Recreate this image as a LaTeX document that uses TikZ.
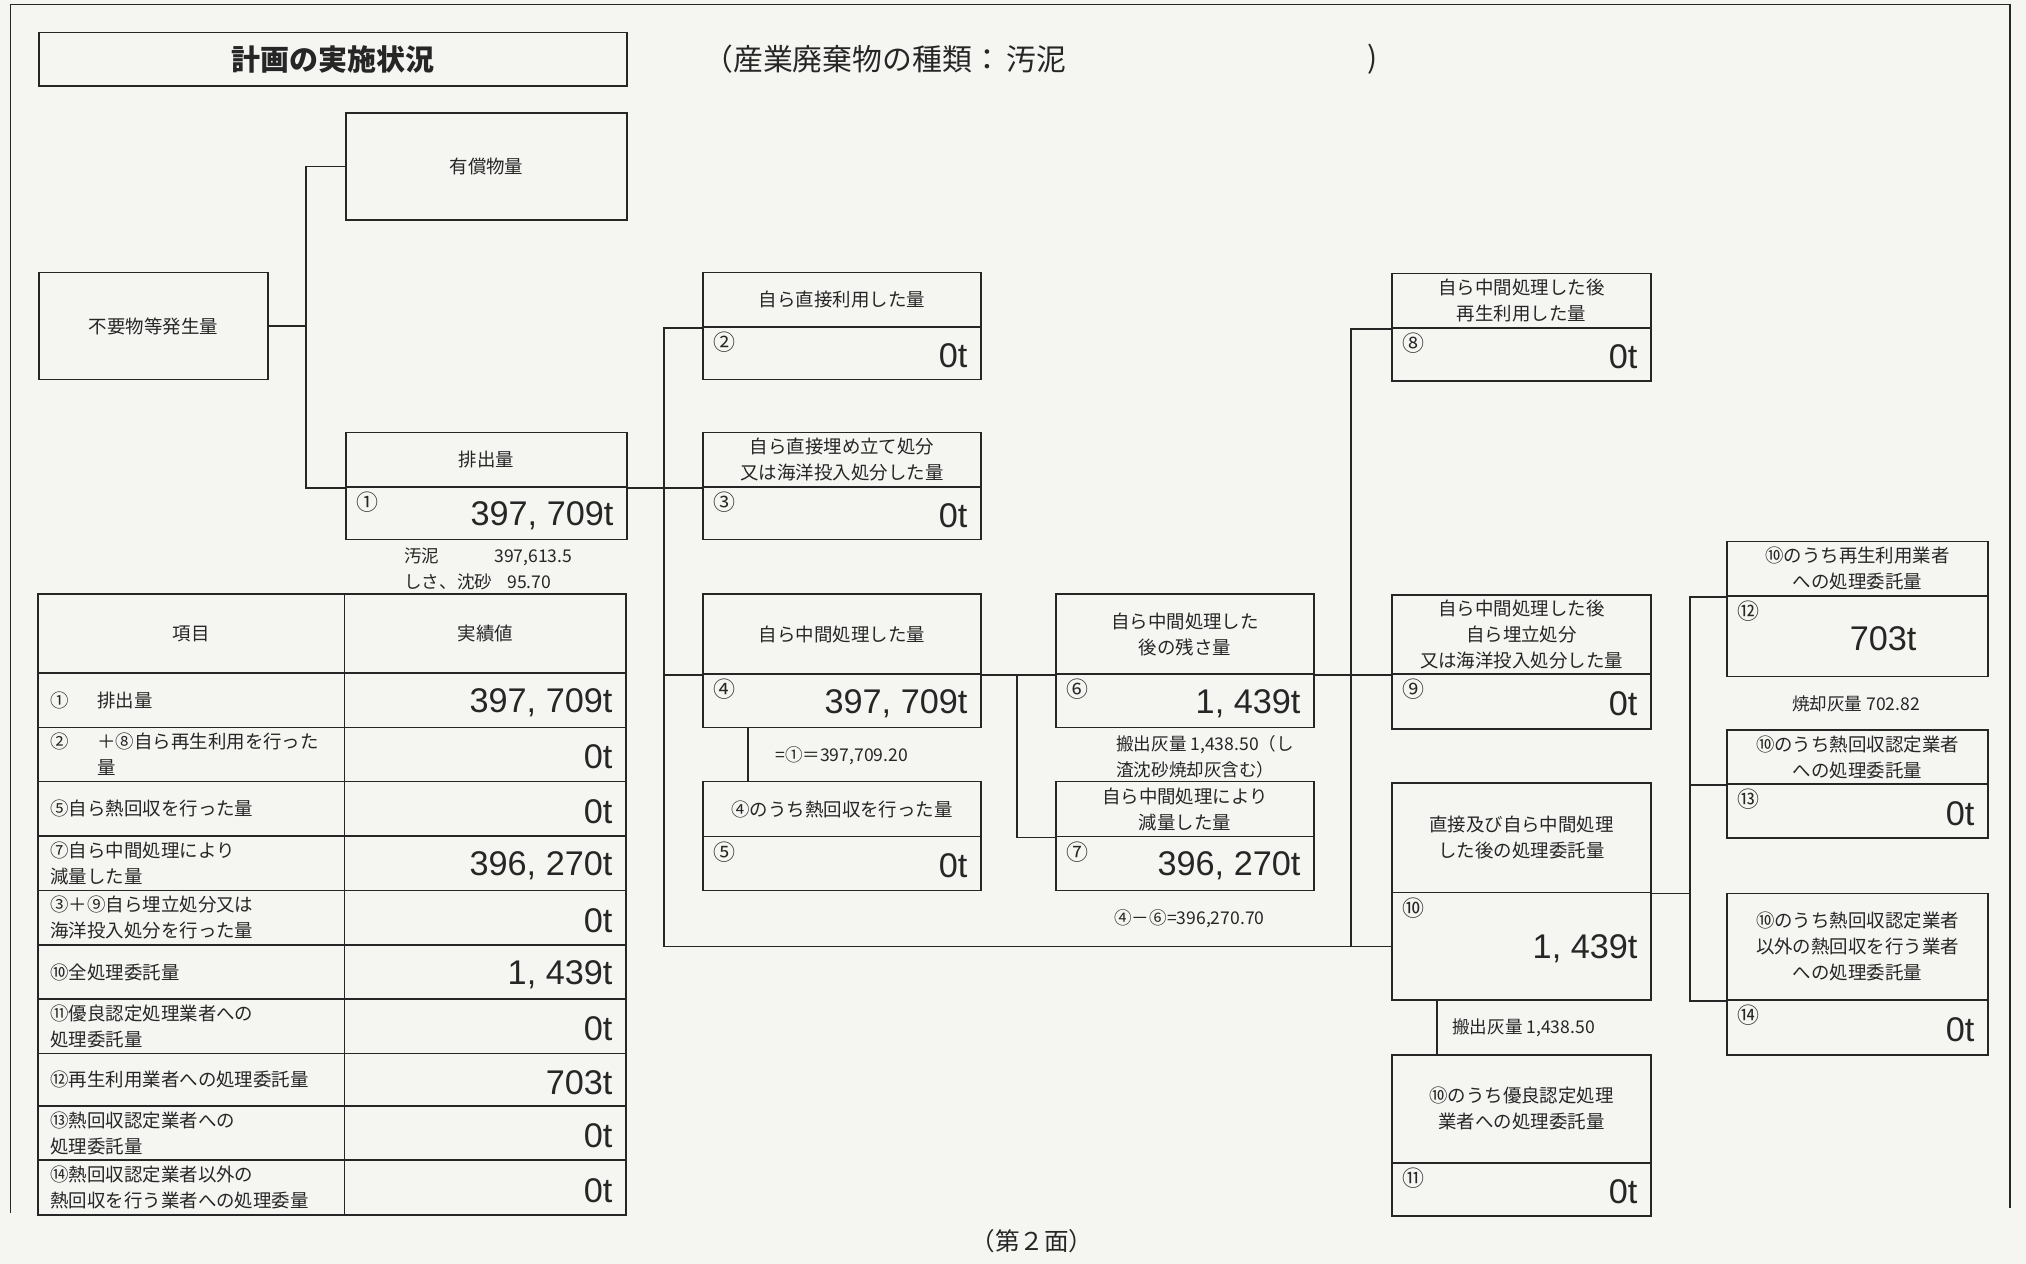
\documentclass[tikz,border=0pt]{standalone}
\usepackage{fontspec}
\setmainfont{Noto Sans CJK JP}
\newfontfamily\numfont{Liberation Sans}
\usetikzlibrary{fit}
\definecolor{paper}{RGB}{245,245,242}
\definecolor{ink}{RGB}{38,38,38}
\begin{document}
\begin{tikzpicture}[x=0.02cm, y=-0.02cm,
    box/.style={draw=ink, line width=1pt, inner sep=0pt},
    txt/.style={inner sep=0pt, align=center, text=ink, font=\fontsize{10.5}{14.8}\selectfont},
    num/.style={anchor=north west, inner xsep=6pt, inner ysep=3.2pt, text=ink,
      font=\fontsize{12.5}{12.5}\selectfont},
    val/.style={anchor=east, inner xsep=8pt, inner ysep=0pt, yshift=-1.5pt, text=ink,
      font=\numfont\fontsize{19.5}{20}\selectfont},
    note/.style={inner sep=0pt, align=left, text=ink, font=\fontsize{10}{14.8}\selectfont},
    link/.style={draw=ink, line width=0.8pt}]
  \useasboundingbox (0,0) rectangle (2026,1264);
  \fill[paper] (0,0) rectangle (2026,1264);
  \draw[ink, line width=0.8pt] (10.5,1213) -- (10.5,4.5) -- (2010,4.5) -- (2010,1208);

  % heading
  \node[box, fit={(39,32.5) (627,86)}, label={[txt, font=\bfseries\fontsize{16.5}{20}\selectfont]center:計画の実施状況}] (title) {};
  \node[note, anchor=west, font=\fontsize{17}{20}\selectfont] (kind) at (703,59) {（産業廃棄物の種類：\,汚泥};
  \node[note, font=\fontsize{17}{20}\selectfont] (kindend) at (1373,59) {)};

  % generation and discharge
  \node[box, fit={(39,272.5) (268,379.6)}, label={[txt]center:不要物等発生量}] (gen) {};
  \node[box, fit={(346,113) (627,220)}, label={[txt]center:有償物量}] (paid) {};
  \node[box, fit={(346,432.5) (627,487)}, label={[txt]center:排出量}] (out-t) {};
  \node[box, fit={(346,487) (627,539.6)}, label={[num]north west:①}, label={[val]east:{397, 709t}}] (out) {};
  \node[note, anchor=west] (sludge) at (404,568.5) {\makebox[1.8cm][l]{汚泥}397,613.5\\\makebox[2.06cm][l]{しさ、沈砂}95.70};

  % own treatment
  \node[box, fit={(703,272.5) (981,327)}, label={[txt]center:自ら直接利用した量}] (own-t) {};
  \node[box, fit={(703,327) (981,379.6)}, label={[num]north west:②}, label={[val]east:0t}] (own) {};
  \node[box, fit={(703,432.5) (981,487)}, label={[txt]center:{自ら直接埋め立て処分\\又は海洋投入処分した量}}] (land-t) {};
  \node[box, fit={(703,487) (981,539.6)}, label={[num]north west:③}, label={[val]east:0t}] (land) {};
  \node[box, fit={(703,594) (981,674)}, label={[txt]center:自ら中間処理した量}] (mid-t) {};
  \node[box, fit={(703,674) (981,727.5)}, label={[num]north west:④}, label={[val]east:{397, 709t}}] (mid) {};
  \node[note, anchor=west] (eq1) at (775,756) {=①＝397,709.20};
  \node[box, fit={(703,781.6) (981,836.5)}, label={[txt]center:④のうち熱回収を行った量}] (heat-t) {};
  \node[box, fit={(703,836.5) (981,890.6)}, label={[num]north west:⑤}, label={[val]east:0t}] (heat) {};
  \node[box, fit={(1056,594) (1314,674)}, label={[txt]center:{自ら中間処理した\\後の残さ量}}] (rest-t) {};
  \node[box, fit={(1056,674) (1314,727.5)}, label={[num]north west:⑥}, label={[val]east:{1, 439t}}] (rest) {};
  \node[note, anchor=west] (ash6) at (1116,757) {搬出灰量 1,438.50（し\\渣沈砂焼却灰含む）};
  \node[box, fit={(1056,781.6) (1314,836.5)}, label={[txt]center:{自ら中間処理により\\減量した量}}] (red-t) {};
  \node[box, fit={(1056,836.5) (1314,890.6)}, label={[num]north west:⑦}, label={[val]east:{396, 270t}}] (red) {};
  \node[note, anchor=west] (eq7) at (1114,919) {④－⑥=396,270.70};

  % after treatment
  \node[box, fit={(1392,273.6) (1651,328)}, label={[txt]center:{自ら中間処理した後\\再生利用した量}}] (reuse-t) {};
  \node[box, fit={(1392,328) (1651,380.8)}, label={[num]north west:⑧}, label={[val]east:0t}] (reuse) {};
  \node[box, fit={(1392,595) (1651,674)}, label={[txt]center:{自ら中間処理した後\\自ら埋立処分\\又は海洋投入処分した量}}] (fill-t) {};
  \node[box, fit={(1392,674) (1651,728.8)}, label={[num]north west:⑨}, label={[val]east:0t}] (fill) {};
  \node[box, fit={(1392,783.3) (1651,892.5)}, label={[txt]center:{直接及び自ら中間処理\\した後の処理委託量}}] (cons-t) {};
  \node[box, fit={(1392,892.5) (1651,1000.2)}, label={[num]north west:⑩}, label={[val]east:{1, 439t}}] (cons) {};
  \node[note, anchor=west] (ash10) at (1452,1028) {搬出灰量 1,438.50};
  \node[box, fit={(1392,1054.8) (1651,1163)}, label={[txt]center:{⑩のうち優良認定処理\\業者への処理委託量}}] (good-t) {};
  \node[box, fit={(1392,1163) (1651,1216)}, label={[num]north west:⑪}, label={[val]east:0t}] (good) {};

  % consigned
  \node[box, fit={(1727,541.4) (1988,596)}, label={[txt]center:{⑩のうち再生利用業者\\への処理委託量}}] (recy-t) {};
  \node[box, fit={(1727,596) (1988,676.6)}, label={[num]north west:⑫}, label={[val, xshift=-33pt]east:703t}] (recy) {};
  \node[note] (ash12) at (1856,704) {焼却灰量 702.82};
  \node[box, fit={(1727,729.7) (1988,784.3)}, label={[txt]center:{⑩のうち熱回収認定業者\\への処理委託量}}] (hrec-t) {};
  \node[box, fit={(1727,784.3) (1988,838)}, label={[num]north west:⑬}, label={[val]east:0t}] (hrec) {};
  \node[box, fit={(1727,893.4) (1988,1000.2)}, label={[txt]center:{⑩のうち熱回収認定業者\\以外の熱回収を行う業者\\への処理委託量}}] (hoth-t) {};
  \node[box, fit={(1727,1000.2) (1988,1054.8)}, label={[num]north west:⑭}, label={[val]east:0t}] (hoth) {};

  \begin{scope}[link]
    \draw (paid.west) -- ++(-39,0) coordinate (fork) |- (out-t.south west);
    \draw (gen.east) -- (gen.east -| fork);
    \draw (out-t.south east) -- (land-t.south west);
    \draw (own-t.south west) -- ++(-38,0) coordinate (spine1) |- (cons.west);
    \draw (mid-t.south west) -- (mid-t.south west -| spine1);
    \draw (mid.south west) ++(46,0) coordinate (c45) -- (c45 |- heat-t.north);
    \draw (mid-t.south east) -- (rest-t.south west);
    \path (rest-t.south west) ++(-38,0) coordinate (spine2);
    \draw (spine2) |- (red-t.south west);
    \draw (rest-t.south east) -- (fill-t.south west);
    \draw (reuse-t.south west) -- ++(-40,0) |- (cons.west);
    \draw (cons.south west) ++(46,0) coordinate (c1011) -- (c1011 |- good-t.north);
    \draw (cons-t.south east) -- ++(38,0) coordinate (spine3);
    \draw (recy-t.south west) -- (recy-t.south west -| spine3) |- (hoth-t.south west);
    \draw (hrec-t.south west) -- (hrec-t.south west -| spine3);
  \end{scope}

  % table
  \node[box, fit={(38,594) (344.6,673)}, label={[txt]center:項目}] (head1) {};
  \node[box, fit={(344.6,594) (626,673)}, label={[txt]center:実績値}] (head2) {};
  \foreach \ya/\yb/\lab/\amt [count=\i] in {
      673/727.5/{\makebox[0.94cm][l]{①}排出量}/{397, 709t},
      727.5/781.6/{\makebox[0.94cm][l]{②}＋⑧自ら再生利用を行った\\\hspace*{0.94cm}量}/0t,
      781.6/836/{⑤自ら熱回収を行った量}/0t,
      836/890.6/{⑦自ら中間処理により\\減量した量}/{396, 270t},
      890.6/945/{③＋⑨自ら埋立処分又は\\海洋投入処分を行った量}/0t,
      945/999/{⑩全処理委託量}/{1, 439t},
      999/1053.4/{⑪優良認定処理業者への\\処理委託量}/0t,
      1053.4/1106/{⑫再生利用業者への処理委託量}/703t,
      1106/1160.3/{⑬熱回収認定業者への\\処理委託量}/0t,
      1160.3/1215/{⑭熱回収認定業者以外の\\熱回収を行う業者への処理委量}/0t}
  {
    \node[box, fit={(38,\ya) (344.6,\yb)}] (item\i) {};
    \node[note, anchor=west, font=\fontsize{10.5}{14.8}\selectfont, xshift=7.4pt] (itemtxt\i) at (item\i.west) {\lab};
    \node[box, fit={(344.6,\ya) (626,\yb)}, label={[val]east:\amt}] (amt\i) {};
  }

  \node[note, font=\fontsize{14}{16}\selectfont] (page) at (1032,1241) {（第２面）};
\end{tikzpicture}
\end{document}
